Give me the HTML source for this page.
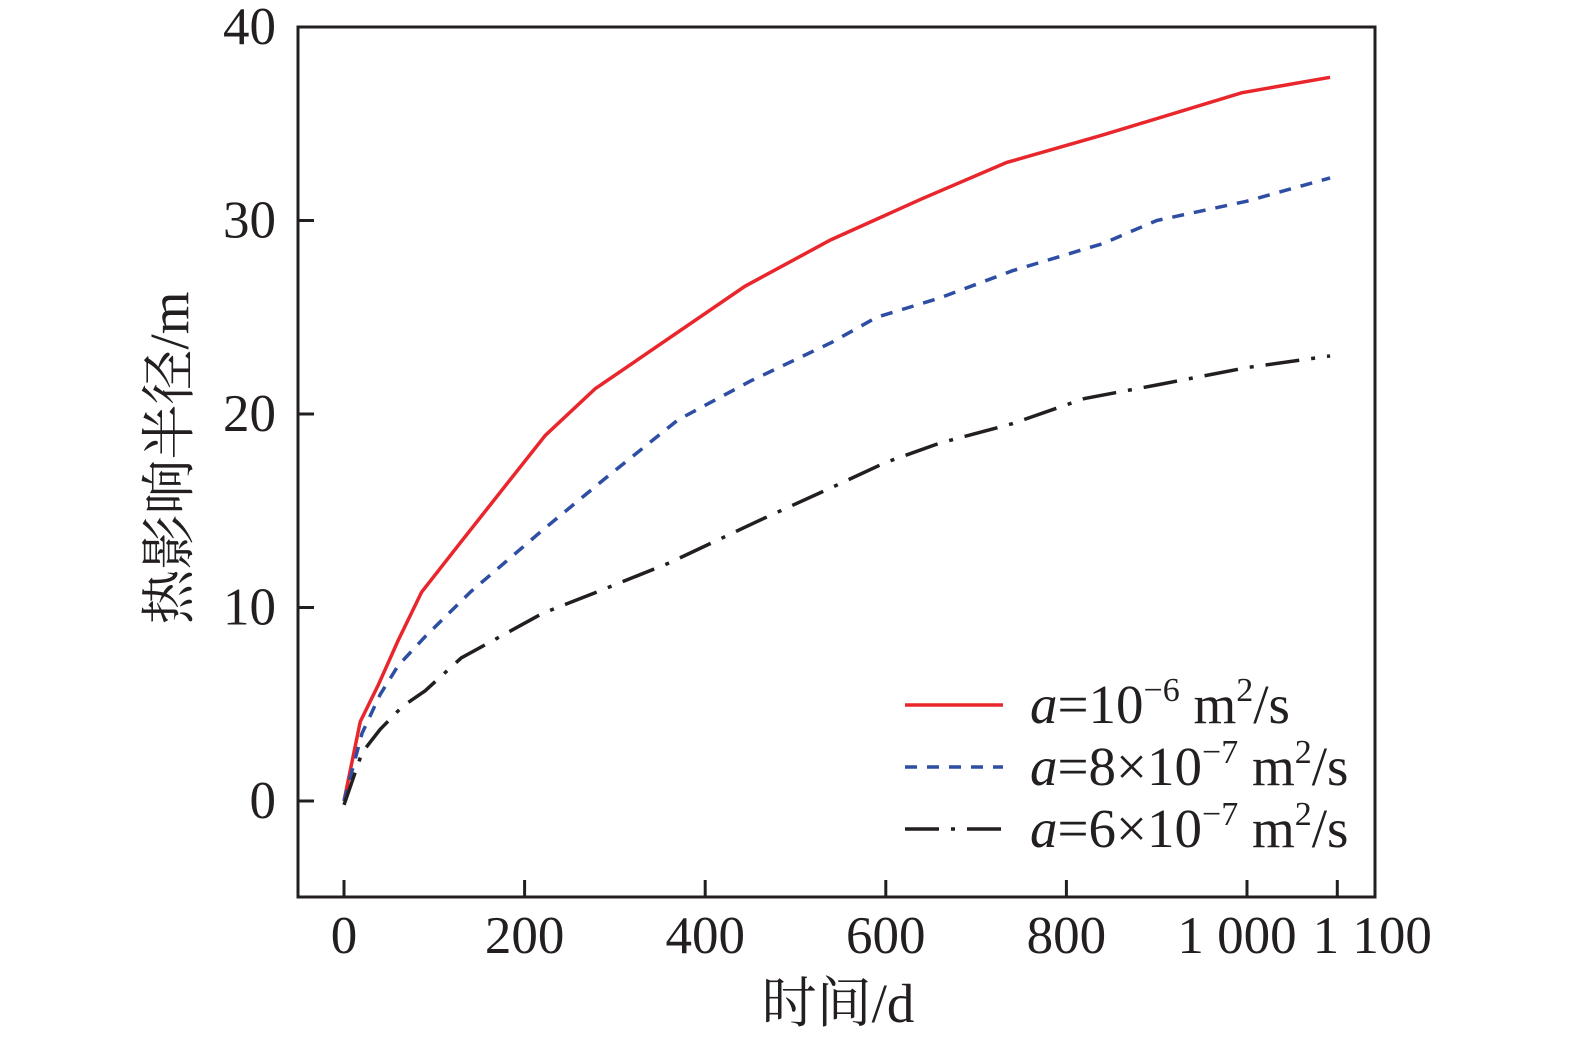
<!DOCTYPE html>
<html><head><meta charset="utf-8"><style>
body{margin:0;background:#fff;}
svg text{font-family:"Liberation Serif","Noto Serif CJK SC",serif;fill:#231f20;}
</style></head><body>
<svg id="c" width="1575" height="1044" xmlns="http://www.w3.org/2000/svg"></svg>
<script>
const xTicks=[0,200,400,600,800,1000,1100];
const xTickLabels=["0","200","400","600","800","1 000","1 100"];
const yTicks=[0,10,20,30,40];
const redX=[0,18,38,60,86,128,223,278,444,539,639,734,839,994,1092];
const redY=[0,4.1,6,8.3,10.8,13.3,18.9,21.3,26.6,29,31.1,33,34.4,36.6,37.4];
const blueX=[0,20,40,60,90,140,220,290,370,450,540,590,660,740,840,900,1000,1092];
const blueY=[0,3.5,5.5,7,8.5,10.8,14,16.7,19.7,21.7,23.7,25,26,27.4,28.8,30,31,32.2];
const blackX=[0,20,40,65,90,130,220,280,360,460,540,600,660,740,820,900,1000,1092];
const blackY=[-0.2,2.5,3.7,4.9,5.7,7.4,9.7,10.8,12.3,14.5,16.2,17.5,18.5,19.5,20.8,21.5,22.4,23];
const NS="http://www.w3.org/2000/svg";
const svg=document.getElementById('c');
const X=v=>344+v*0.903, Y=v=>801-v*19.35;
function mk(t,a,p){const e=document.createElementNS(NS,t);for(const k in a)e.setAttribute(k,a[k]);(p||svg).appendChild(e);return e;}
const frame=mk('rect',{x:298,y:27,width:1077,height:870,fill:'none',stroke:'#231f20','stroke-width':3});


xTicks.forEach((v,i)=>{
 const t=mk('line',{x1:X(v),x2:X(v),y1:897,y2:880,stroke:'#231f20','stroke-width':3});
 
 
 const l=mk('text',{x:X(v)+(v>=1000?(v==1100?35:-10):0),y:953,'font-size':53,'text-anchor':'middle'});
 l.textContent=xTickLabels[i];
 
 
});
yTicks.forEach(v=>{
 const t=mk('line',{x1:298,x2:314,y1:Y(v),y2:Y(v),stroke:'#231f20','stroke-width':3});
 
 
 const l=mk('text',{x:276,y:Y(v)+17,'font-size':53,'text-anchor':'end'});
 l.textContent=v;
 
 
});
const xt=mk('text',{x:838,y:1022,'font-size':55,'text-anchor':'middle'});xt.textContent='时间/d';


const yt=mk('text',{x:0,y:0,'font-size':55,'text-anchor':'middle',transform:'translate(188,458) rotate(-90)'});yt.textContent='热影响半径/m';


function series(xs,ys,color,dash,name){
 const d=xs.map((x,i)=>(i?'L':'M')+X(x)+','+Y(ys[i])).join(' ');
 const p=mk('path',{d:d,fill:'none',stroke:color,'stroke-width':3.5,'stroke-dasharray':dash});
 
 
}
series(redX,redY,'#e8262b','none','series-a-1e-6');
series(blueX,blueY,'#2e4ea3','12 10','series-a-8e-7');
series(blackX,blackY,'#231f20','34 12 4 12','series-a-6e-7');
const leg=[['#e8262b','none','10','−6',''],['#2e4ea3','12 10','10','−7','8×'],['#231f20','34 12 4 12','10','−7','6×']];
leg.forEach((e,i)=>{
 const y=705+i*62;
 const g=mk('g',{});
 
 
 mk('line',{x1:905,x2:1003,y1:y,y2:y,stroke:e[0],'stroke-width':3.5,'stroke-dasharray':e[1]},g);
 const t=mk('text',{x:1030,y:y+18,'font-size':55},g);
 t.innerHTML='<tspan font-style="italic">a</tspan>='+e[4]+'10<tspan font-size="34" dy="-22">'+e[3]+'</tspan><tspan dy="22"> m</tspan><tspan font-size="34" dy="-22">2</tspan><tspan dy="22">/s</tspan>';
});
</script>
</body></html>
